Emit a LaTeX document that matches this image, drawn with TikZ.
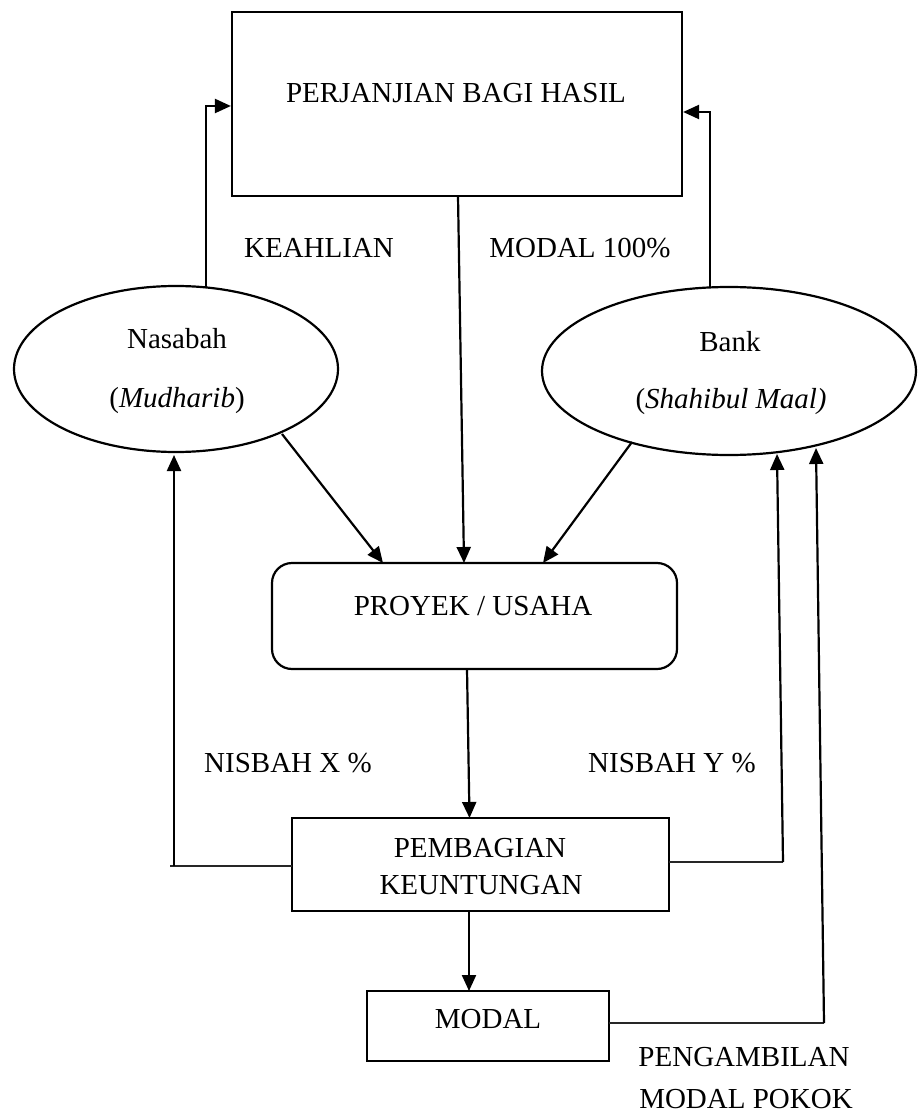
\documentclass[tikz,border=0pt]{standalone}
\usepackage{fontspec}
\setmainfont{Liberation Serif}
\usetikzlibrary{shapes.geometric,arrows.meta}
\begin{document}
\begin{tikzpicture}[x=1pt,y=-1pt,
  every node/.style={font=\fontsize{29}{35}\selectfont, inner sep=0pt},
  boxstyle/.style={draw, line width=2.2pt, rectangle},
  ellstyle/.style={draw, line width=2.2pt, ellipse},
  txt/.style={anchor=base},
  arr/.style={line width=2.2pt, -{Triangle[length=16pt,width=14pt]}},
  thin line/.style={line width=1.3pt, black!85},
  thick line/.style={line width=2.2pt}]
\useasboundingbox (0,0) rectangle (918,1115);

% boxes
\node[boxstyle, minimum width=450pt, minimum height=184pt] (top) at (457,104) {};
\node[txt] (toptext) at (456,103) {PERJANJIAN BAGI HASIL};

\node[ellstyle, minimum width=324pt, minimum height=166pt] (nas) at (176,369) {};
\node[txt] (nas1) at (177,348) {Nasabah};
\node[txt] (nas2) at (177,407) {(\textit{Mudharib})};

\node[ellstyle, minimum width=374pt, minimum height=168pt] (bank) at (729,371) {};
\node[txt] (bank1) at (730,351) {Bank};
\node[txt] (bank2) at (731,408) {(\textit{Shahibul Maal)}};

\node[boxstyle, rounded corners=20pt, minimum width=405pt, minimum height=106pt] (proyek) at (474.5,616) {};
\node[txt] (proyektext) at (473,615) {PROYEK / USAHA};

\node[boxstyle, minimum width=377pt, minimum height=93pt] (pemb) at (480.5,864.5) {};
\node[txt] (pemb1) at (480,857) {PEMBAGIAN};
\node[txt] (pemb2) at (481,894) {KEUNTUNGAN};

\node[boxstyle, minimum width=242pt, minimum height=70pt] (modal) at (488,1026) {};
\node[txt] (modaltext) at (488,1028) {MODAL};

% labels
\node[txt] (keahlian) at (319,257) {KEAHLIAN};
\node[txt] (modal100) at (580,257) {MODAL 100\%};
\node[txt] (nisx) at (288,772) {NISBAH X \%};
\node[txt] (nisy) at (672,772) {NISBAH Y \%};
\node[txt] (peng1) at (744,1066) {PENGAMBILAN};
\node[txt] (peng2) at (746,1108) {MODAL POKOK};

% coordinates
\coordinate (nasTop) at (206,287);
\coordinate (b1) at (206,106);
\coordinate (bankTop) at (710,288);
\coordinate (b2) at (710,112);
\coordinate (topOut) at (458,196);
\coordinate (pin1) at (383,563);
\coordinate (pin2) at (464,563);
\coordinate (pin3) at (543,563);
\coordinate (nasOut) at (282,434);
\coordinate (bankOut) at (632,442);
\coordinate (pOut) at (467,669);
\coordinate (pembIn) at (469.5,818);
\coordinate (l1) at (170,866);
\coordinate (l1v) at (174,866);
\coordinate (nasIn) at (174,455);
\coordinate (pembL) at (292,866);
\coordinate (pembR) at (669,862);
\coordinate (r1) at (783,862);
\coordinate (bankIn1) at (777,454);
\coordinate (pembB) at (469,911);
\coordinate (modalIn) at (469,991);
\coordinate (modalR) at (609,1023);
\coordinate (r2) at (824,1023);
\coordinate (bankIn2) at (816,448);

% connectors
\draw[arr] (nasTop) -- (b1) -- (b1 -| top.west);
\draw[arr] (bankTop) -- (b2) -- (b2 -| top.east);
\draw[arr] (topOut) -- (pin2);
\draw[arr] (nasOut) -- (pin1);
\draw[arr] (bankOut) -- (pin3);
\draw[arr] (pOut) -- (pembIn);
\draw[thin line] (pembL) -- (l1);
\draw[arr] (l1v) -- (nasIn);
\draw[thin line] (pembR) -- (r1);
\draw[arr] (r1) -- (bankIn1);
\draw[arr] (pembB) -- (modalIn);
\draw[thin line] (modalR) -- (r2);
\draw[arr] (r2) -- (bankIn2);
\end{tikzpicture}
\end{document}
